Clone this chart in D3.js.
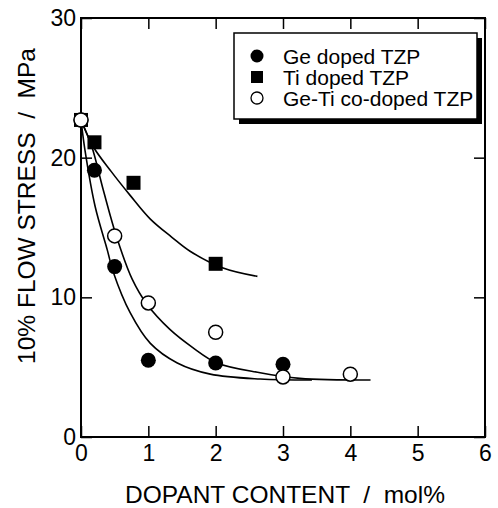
<!DOCTYPE html>
<html>
<head>
<meta charset="utf-8">
<script src="https://cdn.jsdelivr.net/npm/d3@7"></script>
<style>
  body { margin: 0; background: #fff; }
  text { font-family: "Liberation Sans", Arial, sans-serif; fill: #000; }
</style>
</head>
<body>
<div id="chart"></div>
<script>
// measured points
var geX = [0, 0.2, 0.5, 1, 2, 3];
var geY = [22.7, 19.1, 12.2, 5.5, 5.3, 5.2];
var tiX = [0, 0.2, 0.78, 2];
var tiY = [22.7, 21.1, 18.2, 12.4];
var coX = [0, 0.5, 1, 2, 3, 4];
var coY = [22.7, 14.4, 9.6, 7.5, 4.3, 4.5];

// fitted curves
var geFitX = [0, 0.06, 0.21, 0.39, 0.48, 0.73, 1.03, 1.43, 1.92, 2.66, 3.43];
var geFitY = [22.7, 20.5, 16.5, 13.4, 11.8, 8.9, 6.7, 5.3, 4.5, 4.15, 4.08];
var coFitX = [0, 0.16, 0.33, 0.53, 0.76, 0.98, 1.32, 1.66, 2.02, 2.66, 3.25, 4.3];
var coFitY = [22.7, 20.8, 17.7, 14.3, 11.3, 9.5, 7.7, 6.4, 5.3, 4.6, 4.2, 4.08];
var tiFitX = [0, 0.18, 0.45, 0.73, 1.03, 1.35, 1.62, 2.11, 2.62];
var tiFitY = [22.7, 20.8, 19.0, 17.3, 15.6, 14.3, 13.3, 12.1, 11.5];

var xTicks = [0, 1, 2, 3, 4, 5, 6];
var yTicks = [0, 10, 20, 30];
var legendLabels = ['Ge doped TZP', 'Ti doped TZP', 'Ge-Ti co-doped TZP'];

var width = 498, height = 508;
var svg = d3.select('#chart').append('svg')
  .attr('width', width)
  .attr('height', height);

var x = d3.scaleLinear().domain([0, 6]).range([81, 485]);
var y = d3.scaleLinear().domain([0, 30]).range([437, 18]);

function zip(a, b) { return a.map(function(d, i) { return [d, b[i]]; }); }

// axes (ticks inward on all sides)
svg.append('g').attr('transform', 'translate(0,437)')
  .call(d3.axisBottom(x).tickValues(xTicks).tickSize(-11).tickPadding(8).tickFormat(d3.format('d')));
svg.append('g').attr('transform', 'translate(81,0)')
  .call(d3.axisLeft(y).tickValues(yTicks).tickSize(-11).tickPadding(5).tickFormat(d3.format('d')));
svg.append('g').attr('transform', 'translate(0,18)')
  .call(d3.axisTop(x).tickValues(xTicks).tickSize(-11).tickFormat(''));
svg.append('g').attr('transform', 'translate(485,0)')
  .call(d3.axisRight(y).tickValues(yTicks).tickSize(-11).tickFormat(''));

svg.selectAll('.domain').remove();
svg.selectAll('.tick line').attr('stroke', '#000').attr('stroke-width', 1.5);
svg.selectAll('.tick text').style('font-size', '23px').attr('fill', '#000');

svg.append('rect')
  .attr('x', 81).attr('y', 18)
  .attr('width', 485 - 81).attr('height', 437 - 18)
  .attr('fill', 'none').attr('stroke', '#000').attr('stroke-width', 2);

// titles
svg.append('text')
  .attr('x', 285).attr('y', 503)
  .attr('text-anchor', 'middle')
  .style('font-size', '24.5px')
  .style('white-space', 'pre')
  .text('DOPANT CONTENT  /  mol%');

svg.append('text')
  .attr('transform', 'translate(35,206) rotate(-90)')
  .attr('text-anchor', 'middle')
  .style('font-size', '24.5px')
  .style('white-space', 'pre')
  .text('10% FLOW STRESS  /  MPa');

// curves
var line = d3.line()
  .x(function(d) { return x(d[0]); })
  .y(function(d) { return y(d[1]); })
  .curve(d3.curveCatmullRom.alpha(0.5));

[zip(tiFitX, tiFitY), zip(geFitX, geFitY), zip(coFitX, coFitY)].forEach(function(c) {
  svg.append('path')
    .attr('d', line(c))
    .attr('fill', 'none')
    .attr('stroke', '#000')
    .attr('stroke-width', 1.6);
});

// markers
svg.selectAll('.ge').data(zip(geX, geY)).enter()
  .append('circle')
  .attr('cx', function(d) { return x(d[0]); })
  .attr('cy', function(d) { return y(d[1]); })
  .attr('r', 7.5)
  .attr('fill', '#000');

svg.selectAll('.ti').data(zip(tiX, tiY)).enter()
  .append('rect')
  .attr('x', function(d) { return x(d[0]) - 7; })
  .attr('y', function(d) { return y(d[1]) - 7; })
  .attr('width', 14).attr('height', 14)
  .attr('fill', '#000');

svg.selectAll('.co').data(zip(coX, coY)).enter()
  .append('circle')
  .attr('cx', function(d) { return x(d[0]); })
  .attr('cy', function(d) { return y(d[1]); })
  .attr('r', 7)
  .attr('fill', '#fff')
  .attr('stroke', '#000')
  .attr('stroke-width', 1.5);

// legend with drop shadow
var lg = svg.append('g');
lg.append('rect')
  .attr('x', 239).attr('y', 38).attr('width', 243).attr('height', 86)
  .attr('fill', '#000');
lg.append('rect')
  .attr('x', 234).attr('y', 33).attr('width', 243).attr('height', 86)
  .attr('fill', '#fff').attr('stroke', '#000').attr('stroke-width', 1.5);

var rowY = [56, 77, 98];
lg.append('circle').attr('cx', 257).attr('cy', rowY[0]).attr('r', 6.5).attr('fill', '#000');
lg.append('rect').attr('x', 251).attr('y', rowY[1] - 6).attr('width', 12).attr('height', 12).attr('fill', '#000');
lg.append('circle').attr('cx', 257).attr('cy', rowY[2]).attr('r', 6)
  .attr('fill', '#fff').attr('stroke', '#000').attr('stroke-width', 1.3);

lg.selectAll('.lt').data(legendLabels).enter()
  .append('text')
  .attr('x', 283)
  .attr('y', function(d, i) { return rowY[i]; })
  .attr('dy', '0.36em')
  .style('font-size', '21px')
  .text(function(d) { return d; });
</script>
</body>
</html>
